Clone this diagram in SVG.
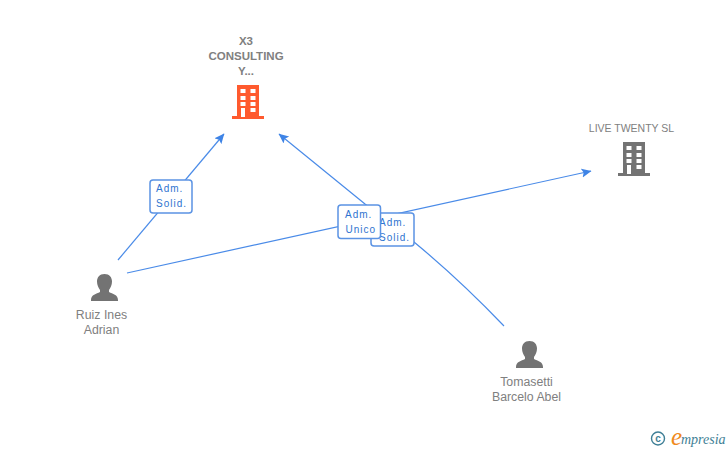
<svg xmlns="http://www.w3.org/2000/svg" width="728" height="450" viewBox="0 0 728 450">
<style>
text{font-family:"Liberation Sans",Arial,sans-serif}
.n{font-size:12.300px;fill:#808080;text-anchor:middle}
.b{font-weight:bold;font-size:11.500px}
.l{font-size:10px;fill:#2f74d0;letter-spacing:1px}
.e{fill:none;stroke:#4a8be8;stroke-width:1.2}
.box{fill:#fff;stroke:#5b93e4;stroke-width:1.5}
.g{fill:#737373}
.o{fill:#ff5a2e}
.w{fill:#fff}
</style>
<defs>
<marker id="a" markerWidth="11" markerHeight="10" refX="9.500" refY="4.500" orient="auto" markerUnits="userSpaceOnUse"><path d="M0 0L10 4.500L0 9L2 4.500Z" fill="#3f84e6"/></marker>
<g id="bld">
<path d="M-11 -34H11V-3H16V0H-16V-3H-11Z"/>
<g class="w"><rect x="-7.500" y="-30" width="5" height="4"/><rect x="2.500" y="-30" width="5" height="4"/><rect x="-7.500" y="-23" width="5" height="4"/><rect x="2.500" y="-23" width="5" height="4"/><rect x="-7.500" y="-17" width="5" height="4"/><rect x="2.500" y="-17" width="5" height="4"/><rect x="-7" y="-11" width="4" height="9"/><rect x="2.500" y="-11" width="5" height="4"/></g>
</g>
<path id="per" d="M0 -27C5 -27 7.500 -23.500 7.500 -19.500C7.500 -16 6 -13 4.500 -11V-9C8 -7 13.500 -6.500 13.500 -1V0H-13.500V-1C-13.500 -6.500 -8 -7 -4.500 -9V-11C-6 -13 -7.500 -16 -7.500 -19.500C-7.500 -23.500 -5 -27 0 -27Z"/>
</defs>
<g id="connectors">
<path class="e" d="M118 260L224 134" marker-end="url(#a)"/>
<path class="e" d="M127 273L591 171" marker-end="url(#a)"/>
<path class="e" d="M504 326Q460 280 414 242L365 204L279 134" marker-end="url(#a)"/>
</g>
<g id="label1"><rect class="box" x="150" y="180" width="42" height="33" rx="3"/><text class="l" x="156" y="192">Adm.</text><text class="l" x="156" y="207">Solid.</text></g>
<g id="label3"><rect class="box" x="371" y="213" width="43" height="33" rx="3"/><text class="l" x="379" y="226">Adm.</text><text class="l" x="379" y="241">Solid.</text></g>
<g id="label2"><rect class="box" x="338" y="205" width="42.500" height="33.500" rx="3"/><text class="l" x="345" y="218">Adm.</text><text class="l" x="345.500" y="233">Unico</text></g>
<g id="node-x3"><text class="n b" x="246" y="45">X3</text><text class="n b" x="246" y="60">CONSULTING</text><text class="n b" x="246" y="75">Y...</text><use href="#bld" x="248" y="119" class="o"/></g>
<g id="node-live"><text class="n" x="631.500" y="132" style="font-size:10.500px">LIVE TWENTY SL</text><use href="#bld" x="634" y="176" class="g"/></g>
<g id="node-ruiz"><use href="#per" x="104.500" y="301" class="g"/><text class="n" x="101.500" y="319">Ruiz Ines</text><text class="n" x="101.500" y="334">Adrian</text></g>
<g id="node-tomasetti"><use href="#per" x="529.500" y="368" class="g"/><text class="n" x="526.500" y="386">Tomasetti</text><text class="n" x="526.500" y="401">Barcelo Abel</text></g>
<g id="credit"><circle cx="658" cy="438.500" r="6.500" fill="none" stroke="#3f7f96" stroke-width="1.400"/><text x="658" y="442" font-size="10" font-weight="bold" fill="#3f7f96" text-anchor="middle">c</text><text x="671" y="445" font-size="25" font-style="italic" fill="#f08a1d" style="font-family:'Liberation Serif',serif">e</text><text x="681" y="443.500" font-size="14" font-style="italic" fill="#3f7f96" style="font-family:'Liberation Serif',serif">mpresia</text></g>
</svg>
